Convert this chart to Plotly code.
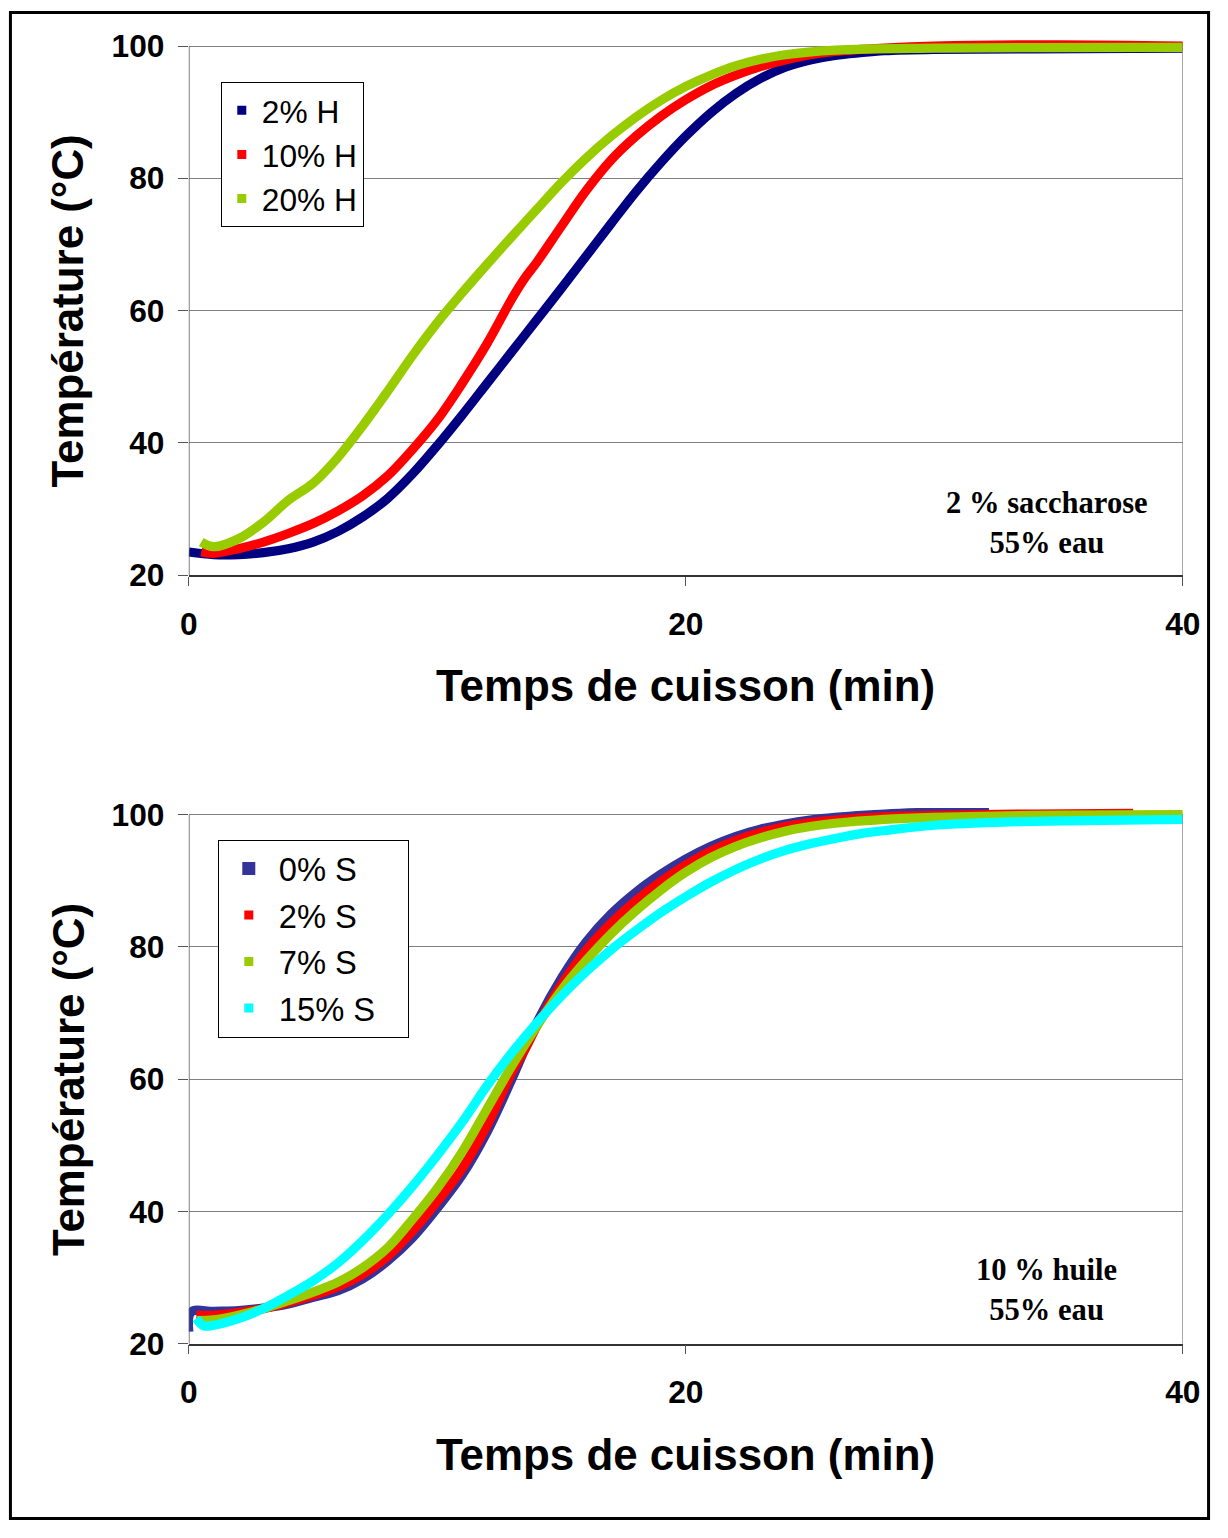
import plotly.graph_objects as go

# ---- data (time in min, temperature in °C) ----
# top panel: 2 % saccharose, 55 % eau, varying oil (H)
t_h2 = [0, 1, 2, 3, 4, 5, 6, 7, 8, 9, 10, 11, 12, 13, 14, 15, 16, 17, 18, 19, 20,
        21, 22, 23, 24, 25, 26, 27, 28, 30, 34, 40]
T_h2 = [23.5, 23.1, 23.1, 23.4, 24.0, 25.0, 26.6, 28.8, 31.6, 35.3, 39.6, 44.2, 49.0,
        53.8, 58.6, 63.4, 68.3, 73.2, 78.0, 82.4, 86.4, 89.9, 92.8, 95.1, 96.8, 97.9,
        98.6, 99.0, 99.3, 99.5, 99.6, 99.7]

t_h10 = [0.5, 1, 2, 3, 4, 5, 6, 7, 8, 9, 10, 11, 12, 13, 13.5, 14, 15, 16, 17, 18,
         19, 20, 21, 22, 23, 24, 25, 26, 28, 30, 35, 40]
T_h10 = [23.5, 23.3, 24.0, 25.0, 26.3, 27.8, 29.7, 32.0, 35.0, 39.0, 43.5, 49.0, 55.0,
         61.8, 64.8, 67.3, 72.8, 78.2, 82.8, 86.4, 89.4, 91.9, 94.0, 95.6, 96.9, 97.9,
         98.7, 99.2, 99.7, 100.0, 100.2, 100.0]

t_h20 = [0.5, 1, 2, 3, 4, 5, 6, 7, 8, 9, 10, 11, 12, 13, 14, 15, 16, 17, 18, 19,
         20, 21, 22, 23, 24, 26, 30, 40]
T_h20 = [25.0, 24.3, 25.5, 28.0, 31.3, 33.9, 37.8, 42.6, 47.8, 53.2, 58.2, 62.7, 67.0,
         71.2, 75.3, 79.4, 83.1, 86.4, 89.3, 91.8, 93.9, 95.6, 97.0, 98.0, 98.7, 99.4,
         99.7, 99.8]

# bottom panel: 10 % huile, 55 % eau, varying sugar (S)
t_s0 = [0, 0.1, 1, 2, 3, 4, 5, 6, 7, 8, 9, 10, 11, 12, 13, 14, 15, 16, 17, 18, 19, 20,
        21, 22, 23, 24, 25, 26, 28, 30, 32.2]
T_s0 = [21.8, 24.8, 24.9, 25.0, 25.4, 26.0, 27.0, 28.0, 29.8, 32.5, 36.0, 40.5, 45.5,
        52.0, 60.0, 68.5, 75.3, 80.8, 85.0, 88.3, 91.0, 93.3, 95.2, 96.7, 97.8, 98.6,
        99.2, 99.6, 100.1, 100.4, 100.6]

t_s2 = [0.3, 1, 2, 3, 4, 5, 6, 7, 8, 9, 10, 11, 12, 13, 13.6, 14, 15, 16, 17, 18, 19,
        20, 21, 22, 23, 24, 25, 26, 28, 30, 34, 38]
T_s2 = [24.3, 24.3, 24.7, 25.3, 26.2, 27.3, 28.6, 30.5, 33.2, 37.0, 41.5, 46.5, 53.0,
        61.0, 65.0, 68.0, 74.3, 79.5, 83.6, 87.0, 89.9, 92.4, 94.5, 96.1, 97.3, 98.2,
        98.8, 99.2, 99.7, 99.9, 100.1, 100.2]

t_s7 = [0.3, 1, 2, 3, 4, 5, 6, 7, 8, 9, 10, 11, 12, 13, 14, 15, 16, 17, 18, 19, 20,
        21, 22, 23, 24, 25, 26, 28, 30, 34, 40]
T_s7 = [23.5, 23.6, 24.3, 25.3, 26.5, 27.8, 29.3, 31.5, 34.5, 38.8, 43.5, 49.0, 55.5,
        62.0, 68.0, 73.5, 78.0, 82.0, 85.5, 88.6, 91.3, 93.5, 95.2, 96.5, 97.5, 98.2,
        98.7, 99.3, 99.6, 99.9, 100.0]

t_s15 = [0.3, 0.6, 1, 2, 3, 4, 5, 6, 7, 8, 9, 10, 11, 12, 13, 14, 15, 16, 17, 18, 19,
         20, 21, 22, 23, 24, 25, 26, 27, 28, 30, 33, 36, 40]
T_s15 = [23.8, 22.7, 22.8, 23.8, 25.3, 27.3, 29.5, 32.2, 35.6, 39.5, 43.8, 48.5, 53.5,
         59.0, 64.0, 68.5, 72.6, 76.3, 79.6, 82.5, 85.2, 87.6, 89.8, 91.7, 93.3, 94.6,
         95.6, 96.4, 97.1, 97.6, 98.4, 98.9, 99.1, 99.3]

top_series = [("2% H", t_h2, T_h2, "#000080", 9),
              ("10% H", t_h10, T_h10, "#FF0000", 9),
              ("20% H", t_h20, T_h20, "#99CC00", 9)]
bot_series = [("0% S", t_s0, T_s0, "#333399", 13),
              ("2% S", t_s2, T_s2, "#FF0000", 9),
              ("7% S", t_s7, T_s7, "#99CC00", 9),
              ("15% S", t_s15, T_s15, "#00FFFF", 9)]

W, H = 1228, 1538
# the viewer shows the page slightly shrunk and shifted; positions below are
# target pixels in the picture, mapped back through that offset/scale
OX, OY, SX, SY = 8.0, 9.8, 0.979, 0.983


def px_x(p):
    return ((p - OX) / SX) / W


def px_y(p):
    return 1 - ((p - OY) / SY) / H


def fs(size):
    return round(size / SX, 1)


fig = go.Figure()

for name, t, T, col, msize in top_series:
    fig.add_trace(go.Scatter(x=t, y=T, mode="lines", line=dict(color=col, width=9.2, shape="spline", smoothing=1),
                             showlegend=False, xaxis="x", yaxis="y", hoverinfo="skip"))
    fig.add_trace(go.Scatter(x=[None], y=[None], mode="markers", name=name, legend="legend",
                             legendgroup=name, marker=dict(symbol="square", size=msize, color=col),
                             xaxis="x", yaxis="y"))

for name, t, T, col, msize in bot_series:
    fig.add_trace(go.Scatter(x=t, y=T, mode="lines", line=dict(color=col, width=9.2, shape="spline", smoothing=1),
                             showlegend=False, xaxis="x2", yaxis="y2", hoverinfo="skip"))
    # trailing no-break spaces widen this legend box like in the picture
    fig.add_trace(go.Scatter(x=[None], y=[None], mode="markers", name=name + "\u00a0" * 3, legend="legend2",
                             legendgroup=name, marker=dict(symbol="square", size=msize, color=col),
                             xaxis="x2", yaxis="y2"))

tickfont = dict(family="Liberation Sans", size=fs(31), color="black", weight="bold")

xaxis_style = dict(range=[0, 40], tickvals=[0, 20, 40], showgrid=False, zeroline=False,
                   showline=True, linecolor="#333333", linewidth=1.5,
                   ticks="outside", ticklen=9, tickcolor="#555555",
                   ticklabelstandoff=11, tickfont=tickfont, domain=[px_x(188), px_x(1183)])
yaxis_style = dict(range=[20, 101], tickvals=[20, 40, 60, 80, 100], showgrid=True,
                   gridcolor="#808080", gridwidth=1, zeroline=False, showline=False,
                   ticks="outside", ticklen=10, tickcolor="#555555",
                   ticklabelstandoff=7, tickfont=tickfont)

dy = 6.625  # px per degree, keeps the 100 gridline where the picture has it
fig.update_layout(
    width=W, height=H,
    margin=dict(l=0, r=0, t=0, b=0),
    paper_bgcolor="white", plot_bgcolor="white",
    xaxis=dict(**xaxis_style, anchor="y"),
    yaxis=dict(**yaxis_style, anchor="x", domain=[px_y(575), px_y(45 - dy)]),
    xaxis2=dict(**xaxis_style, anchor="y2"),
    yaxis2=dict(**yaxis_style, anchor="x2", domain=[px_y(1345), px_y(815 - dy)]),
    legend=dict(x=px_x(220), y=px_y(81), xanchor="left", yanchor="top",
                bordercolor="black", borderwidth=1, bgcolor="white",
                font=dict(family="Liberation Sans", size=fs(31), color="black"),
                traceorder="grouped", tracegroupgap=0),
    legend2=dict(x=px_x(217), y=px_y(840), xanchor="left", yanchor="top",
                 bordercolor="black", borderwidth=1, bgcolor="white",
                 font=dict(family="Liberation Sans", size=fs(32), color="black"),
                 traceorder="grouped", tracegroupgap=1, itemwidth=50),
)

# axis lines left / right of each panel
for xr, yr in [("x", "y"), ("x2", "y2")]:
    fig.add_shape(type="line", xref=xr, yref=yr, x0=0, x1=0, y0=20, y1=100,
                  line=dict(color="#555555", width=1.5))
    fig.add_shape(type="line", xref=xr, yref=yr, x0=40, x1=40, y0=20, y1=100,
                  line=dict(color="#8c8c8c", width=1.5))

# outer frame, as close to the page edge as possible
fig.add_shape(type="rect", xref="paper", yref="paper", x0=0.0012, x1=0.9988,
              y0=0.001, y1=0.999, line=dict(color="black", width=3))

title_font = dict(family="Liberation Sans", size=fs(43), color="black", weight="bold")
note_font = dict(family="Liberation Serif", size=fs(30), color="black", weight="bold")

for yc_x, yc_y in [(686, 310), (1456, 1080)]:
    fig.add_annotation(text="Temps de cuisson (min)", xref="paper", yref="paper",
                       x=px_x(685), y=px_y(yc_x), xanchor="center", yanchor="middle",
                       showarrow=False, font=title_font)
    fig.add_annotation(text="Température (°C)", xref="paper", yref="paper",
                       x=px_x(67), y=px_y(yc_y), xanchor="center", yanchor="middle",
                       textangle=-90, showarrow=False, font=title_font)

fig.add_annotation(text="2 % saccharose<br>55% eau", xref="paper", yref="paper",
                   x=px_x(1047), y=px_y(523), xanchor="center", yanchor="middle",
                   showarrow=False, font=note_font, align="center")
fig.add_annotation(text="10 % huile<br>55% eau", xref="paper", yref="paper",
                   x=px_x(1047), y=px_y(1291), xanchor="center", yanchor="middle",
                   showarrow=False, font=note_font, align="center")

fig.write_html("out.html", config={"displayModeBar": False},
               post_script="document.body.style.margin='0';document.body.style.overflow='hidden';")
